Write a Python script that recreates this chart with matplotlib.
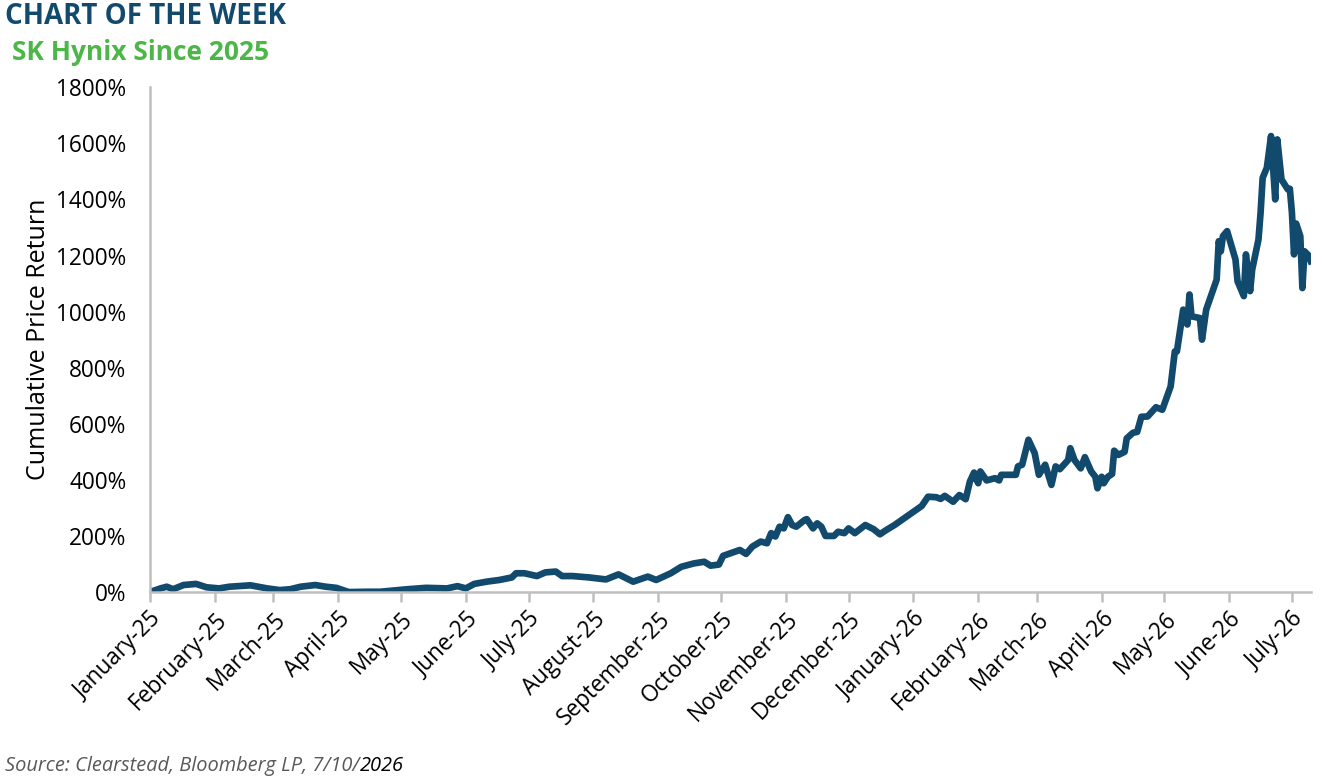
import pandas as pd
import numpy as np
import matplotlib

matplotlib.use("Agg")
import matplotlib.pyplot as plt
import matplotlib.dates as mdates
from matplotlib.ticker import FuncFormatter

plt.rcParams["font.family"] = ["Open Sans", "DejaVu Sans"]

# cumulative price return (%)
dates = [
    "2025-01-01", "2025-01-06", "2025-01-09", "2025-01-12", "2025-01-17", "2025-01-23",
    "2025-01-28", "2025-02-03", "2025-02-08", "2025-02-18", "2025-02-26", "2025-03-04",
    "2025-03-09", "2025-03-14", "2025-03-21", "2025-03-26", "2025-03-31", "2025-04-06",
    "2025-04-15", "2025-04-21", "2025-04-27", "2025-05-04", "2025-05-13", "2025-05-23",
    "2025-05-28", "2025-06-01", "2025-06-05", "2025-06-11", "2025-06-17", "2025-06-23",
    "2025-06-25", "2025-06-29", "2025-07-05", "2025-07-09", "2025-07-14", "2025-07-17",
    "2025-07-22", "2025-07-30", "2025-08-07", "2025-08-13", "2025-08-20", "2025-08-27",
    "2025-08-31", "2025-09-07", "2025-09-12", "2025-09-18", "2025-09-23", "2025-09-26",
    "2025-09-30", "2025-10-02", "2025-10-10", "2025-10-13", "2025-10-16", "2025-10-20",
    "2025-10-23", "2025-10-25", "2025-10-27", "2025-10-29", "2025-10-31", "2025-11-02",
    "2025-11-04", "2025-11-06", "2025-11-10", "2025-11-11", "2025-11-14", "2025-11-16",
    "2025-11-18", "2025-11-20", "2025-11-24", "2025-11-26", "2025-11-29", "2025-12-01",
    "2025-12-04", "2025-12-09", "2025-12-13", "2025-12-16", "2025-12-19", "2025-12-23",
    "2025-12-27", "2025-12-31", "2026-01-05", "2026-01-08", "2026-01-12", "2026-01-14",
    "2026-01-16", "2026-01-20", "2026-01-23", "2026-01-26", "2026-01-28", "2026-01-30",
    "2026-01-31", "2026-02-01", "2026-02-02", "2026-02-05", "2026-02-09", "2026-02-11",
    "2026-02-12", "2026-02-19", "2026-02-20", "2026-02-22", "2026-02-25", "2026-02-28",
    "2026-03-02", "2026-03-05", "2026-03-08", "2026-03-10", "2026-03-12", "2026-03-16",
    "2026-03-17", "2026-03-19", "2026-03-22", "2026-03-24", "2026-03-27", "2026-03-29",
    "2026-03-30", "2026-04-01", "2026-04-02", "2026-04-04", "2026-04-06", "2026-04-07",
    "2026-04-09", "2026-04-12", "2026-04-13", "2026-04-16", "2026-04-18", "2026-04-20",
    "2026-04-23", "2026-04-27", "2026-04-30", "2026-05-04", "2026-05-06", "2026-05-07",
    "2026-05-10", "2026-05-12", "2026-05-13", "2026-05-14", "2026-05-18", "2026-05-19",
    "2026-05-21", "2026-05-26", "2026-05-27", "2026-05-28", "2026-05-29", "2026-05-31",
    "2026-06-04", "2026-06-05", "2026-06-08", "2026-06-09", "2026-06-11", "2026-06-12",
    "2026-06-15", "2026-06-16", "2026-06-17", "2026-06-19", "2026-06-21", "2026-06-23",
    "2026-06-24", "2026-06-26", "2026-06-29", "2026-06-30", "2026-07-01", "2026-07-02",
    "2026-07-03", "2026-07-05", "2026-07-06", "2026-07-07", "2026-07-09", "2026-07-10",
]
returns = [
    0, 13, 19, 10, 25, 29,
    17, 13, 19, 24, 13, 7,
    10, 19, 25, 19, 15, 0,
    1, 1, 5, 10, 15, 13,
    21, 13, 29, 37, 43, 52,
    67, 67, 57, 70, 73, 57,
    57, 52, 45, 63, 37, 55,
    43, 67, 90, 102, 108, 94,
    98, 129, 150, 136, 162, 180,
    174, 210, 198, 233, 227, 267,
    239, 233, 257, 260, 227, 245,
    233, 200, 200, 215, 210, 227,
    210, 239, 224, 206, 221, 239,
    260, 281, 307, 340, 338, 332,
    343, 322, 346, 331, 394, 426,
    403, 388, 430, 398, 406, 398,
    418, 418, 448, 454, 543, 495,
    418, 454, 382, 448, 438, 471,
    513, 471, 441, 481, 430, 411,
    370, 411, 388, 411, 421, 504,
    489, 500, 548, 568, 571, 625,
    626, 659, 650, 733, 858, 858,
    1007, 954, 1061, 983, 977, 900,
    1007, 1114, 1251, 1215, 1269, 1287,
    1186, 1108, 1055, 1204, 1073, 1150,
    1257, 1352, 1477, 1513, 1626, 1400,
    1614, 1471, 1436, 1438, 1352, 1204,
    1314, 1269, 1084, 1215, 1200, 1180,
]
month_ticks = pd.date_range("2025-01-01", "2026-07-01", freq="MS")

navy = "#124a6d"
green = "#4cb648"
gray = "#bfbfbf"

df = pd.DataFrame({"date": pd.to_datetime(dates), "ret": returns})

fig = plt.figure(figsize=(13.22, 7.79), dpi=100)
ax = fig.add_axes([0.1135, 0.24, 0.878, 0.648])

ax.plot(df["date"], df["ret"], color=navy, linewidth=4.8, solid_joinstyle="round")

ax.set_xlim(pd.Timestamp("2025-01-01"), pd.Timestamp("2026-07-10"))
ax.set_ylim(0, 1800)
ax.set_yticks(np.arange(0, 1801, 200))
ax.yaxis.set_major_formatter(FuncFormatter(lambda v, _: f"{v:.0f}%"))
ax.set_xticks(month_ticks)
ax.xaxis.set_major_formatter(mdates.DateFormatter("%B-%y"))

for side in ["top", "right"]:
    ax.spines[side].set_visible(False)
for side in ["left", "bottom"]:
    ax.spines[side].set_color(gray)
    ax.spines[side].set_linewidth(1.8)

ax.tick_params(axis="y", length=0, pad=17, labelsize=16.3, labelcolor="black")
ax.tick_params(axis="x", length=7, width=1.8, color=gray, pad=4, labelsize=16.3)
plt.setp(ax.get_xticklabels(), rotation=45, ha="right", rotation_mode="anchor")
ax.set_ylabel("Cumulative Price Return", fontsize=18, labelpad=4)

fig.text(0.004, 0.979, "CHART OF THE WEEK", fontsize=20, fontweight="bold",
         color=navy, va="center", ha="left")
fig.text(0.009, 0.933, "SK Hynix Since 2025", fontsize=19, fontweight="bold",
         color=green, va="center", ha="left")

src = fig.text(0.004, 0.017, "Source: Clearstead, Bloomberg LP, 7/10/", fontsize=14.4,
               style="italic", color="#595959", va="center", ha="left")
fig.canvas.draw()
bb = src.get_window_extent().transformed(fig.transFigure.inverted())
fig.text(bb.x1, 0.017, "2026", fontsize=14.4, style="italic", color="black",
         va="center", ha="left")

fig.savefig("out.png", dpi=100)
